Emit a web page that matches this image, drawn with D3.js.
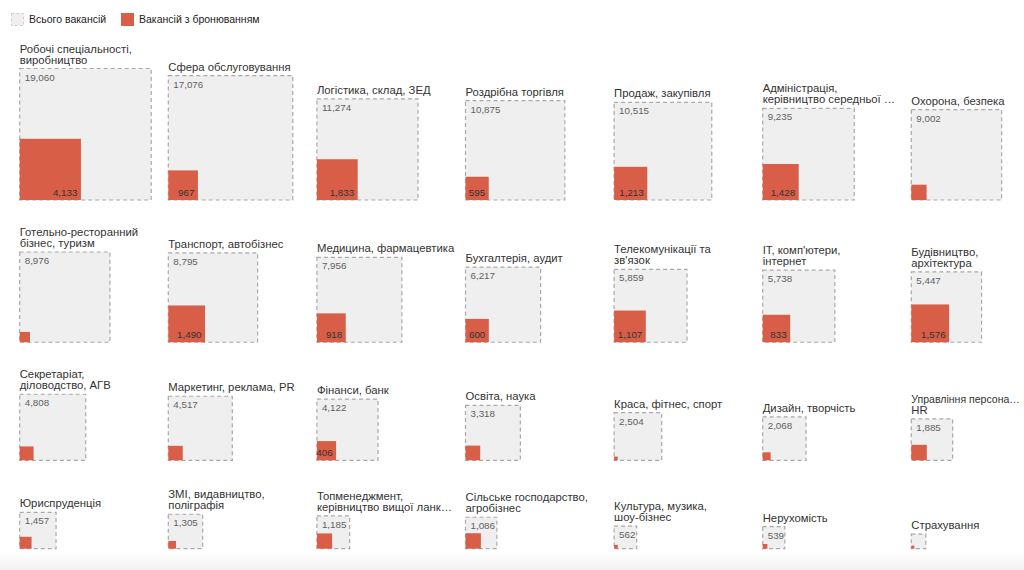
<!DOCTYPE html>
<html>
<head>
<meta charset="utf-8">
<script src="https://cdn.jsdelivr.net/npm/d3@7"></script>
<style>
  body { margin: 0; background: #fff; }
  svg { display: block; font-family: "Liberation Sans", Arial, sans-serif; }
</style>
</head>
<body>
<svg id="chart" width="1024" height="570"></svg>
<script>
// Labels as they are printed (line breaks and cut endings kept)
const categories = [
  "Робочі спеціальності,\nвиробництво", "Сфера обслуговування", "Логістика, склад, ЗЕД",
  "Роздрібна торгівля", "Продаж, закупівля", "Адміністрація,\nкерівництво середньої …",
  "Охорона, безпека",
  "Готельно-ресторанний\nбізнес, туризм", "Транспорт, автобізнес", "Медицина, фармацевтика",
  "Бухгалтерія, аудит", "Телекомунікації та\nзв'язок", "IT, комп'ютери,\nінтернет",
  "Будівництво,\nархітектура",
  "Секретаріат,\nділоводство, АГВ", "Маркетинг, реклама, PR", "Фінанси, банк",
  "Освіта, наука", "Краса, фітнес, спорт", "Дизайн, творчість",
  "Управління персона…\nHR",
  "Юриспруденція", "ЗМІ, видавництво,\nполіграфія", "Топменеджмент,\nкерівництво вищої ланк…",
  "Сільське господарство,\nагробізнес", "Культура, музика,\nшоу-бізнес", "Нерухомість",
  "Страхування"
];
const totalVacancies = [
  19060, 17076, 11274, 10875, 10515, 9235, 9002,
  8976, 8795, 7956, 6217, 5859, 5738, 5447,
  4808, 4517, 4122, 3318, 2504, 2068, 1885,
  1457, 1305, 1185, 1086, 562, 539, 232
];
const reservedVacancies = [
  4133, 967, 1833, 595, 1213, 1428, 258,
  117, 1490, 918, 600, 1107, 833, 1576,
  212, 230, 406, 238, 15, 70, 265,
  155, 65, 255, 262, 15, 24, 10
];
const legendLabels = ["Всього вакансій", "Вакансій з бронюванням"];

const W = 1024;
const COLS = 7;
const RED = "#d85e48";
const GREY_FILL = "#efefef";
const GREY_LINE = "#a9a9a9";

const svg = d3.select("#chart");

// soft shadow at the bottom edge
const defs = svg.append("defs");
const grad = defs.append("linearGradient").attr("id", "fade")
  .attr("x1", 0).attr("y1", 0).attr("x2", 0).attr("y2", 1);
grad.append("stop").attr("offset", "0%").attr("stop-color", "#fff");
grad.append("stop").attr("offset", "100%").attr("stop-color", "#f1f1f1");
svg.append("rect").attr("x", 0).attr("y", 553).attr("width", W).attr("height", 17)
  .attr("fill", "url(#fade)");

// side of a square from its value (area ~ value)
const side = d3.scaleSqrt().domain([0, 19060]).range([0, 131.5]);
const colX = d3.scaleLinear().domain([0, COLS]).range([19.7, 19.7 + COLS * 148.6]);

const data = categories.map((c, i) => ({
  lines: c.split("\n"),
  total: totalVacancies[i],
  reserved: reservedVacancies[i],
  col: i % COLS,
  row: Math.floor(i / COLS)
}));

// row baselines: each row sits below the previous by its biggest square + label room
const nRows = Math.ceil(data.length / COLS);
const rowBottom = [];
for (let r = 0; r < nRows; r++) {
  const maxSide = d3.max(data.filter(d => d.row === r), d => side(d.total));
  rowBottom.push(r === 0 ? 200 : rowBottom[r - 1] + maxSide + 52);
}

// Legend
const legend = svg.append("g").attr("transform", "translate(11,13)");
legend.append("rect").attr("x", 0.5).attr("y", 0.5).attr("width", 12).attr("height", 12)
  .attr("fill", GREY_FILL).attr("stroke", "#cfcfcf").attr("stroke-dasharray", "3,2");
legend.append("text").attr("x", 18).attr("y", 10).text(legendLabels[0])
  .attr("font-size", 10.5).attr("fill", "#222");
legend.append("rect").attr("x", 110).attr("y", 0).attr("width", 13).attr("height", 13)
  .attr("fill", RED);
legend.append("text").attr("x", 128).attr("y", 10).text(legendLabels[1])
  .attr("font-size", 10.5).attr("fill", "#222");

// Cells
const fmt = d3.format(",");
const cell = svg.selectAll("g.cell").data(data).enter().append("g")
  .attr("class", "cell")
  .attr("transform", d => `translate(${colX(d.col)},${rowBottom[d.row]})`);

cell.append("rect")
  .attr("x", 0)
  .attr("y", d => -side(d.total))
  .attr("width", d => side(d.total))
  .attr("height", d => side(d.total))
  .attr("fill", GREY_FILL)
  .attr("stroke", GREY_LINE)
  .attr("stroke-width", 1.2)
  .attr("stroke-dasharray", "4,3");

cell.append("rect")
  .attr("x", 0)
  .attr("y", d => -side(d.reserved))
  .attr("width", d => side(d.reserved))
  .attr("height", d => side(d.reserved))
  .attr("fill", RED);

// total value, top-left inside the grey square
cell.filter(d => side(d.total) >= 20).append("text")
  .attr("x", 5)
  .attr("y", d => -side(d.total) + 12)
  .attr("font-size", 9.8)
  .attr("fill", "#5f5f5f")
  .text(d => fmt(d.total));

// reserved value, bottom-right inside the red square
cell.filter(d => side(d.reserved) >= 18).append("text")
  .attr("x", d => side(d.reserved) - 3.5)
  .attr("y", -4)
  .attr("text-anchor", "end")
  .attr("font-size", 9.8)
  .attr("fill", "#333")
  .text(d => fmt(d.reserved));

// category label above the square; shrink a line a bit if it would run off the right edge
cell.each(function(d) {
  const g = d3.select(this);
  const n = d.lines.length;
  const room = W - 4 - colX(d.col);
  d.lines.forEach((line, j) => {
    const t = g.append("text")
      .attr("x", 0)
      .attr("y", -side(d.total) - 5 - (n - 1 - j) * 11)
      .attr("font-size", 11.3)
      .attr("fill", "#333")
      .text(line);
    const len = t.node().getComputedTextLength();
    if (len > room) t.attr("font-size", 11.3 * room / len);
  });
});
</script>
</body>
</html>
